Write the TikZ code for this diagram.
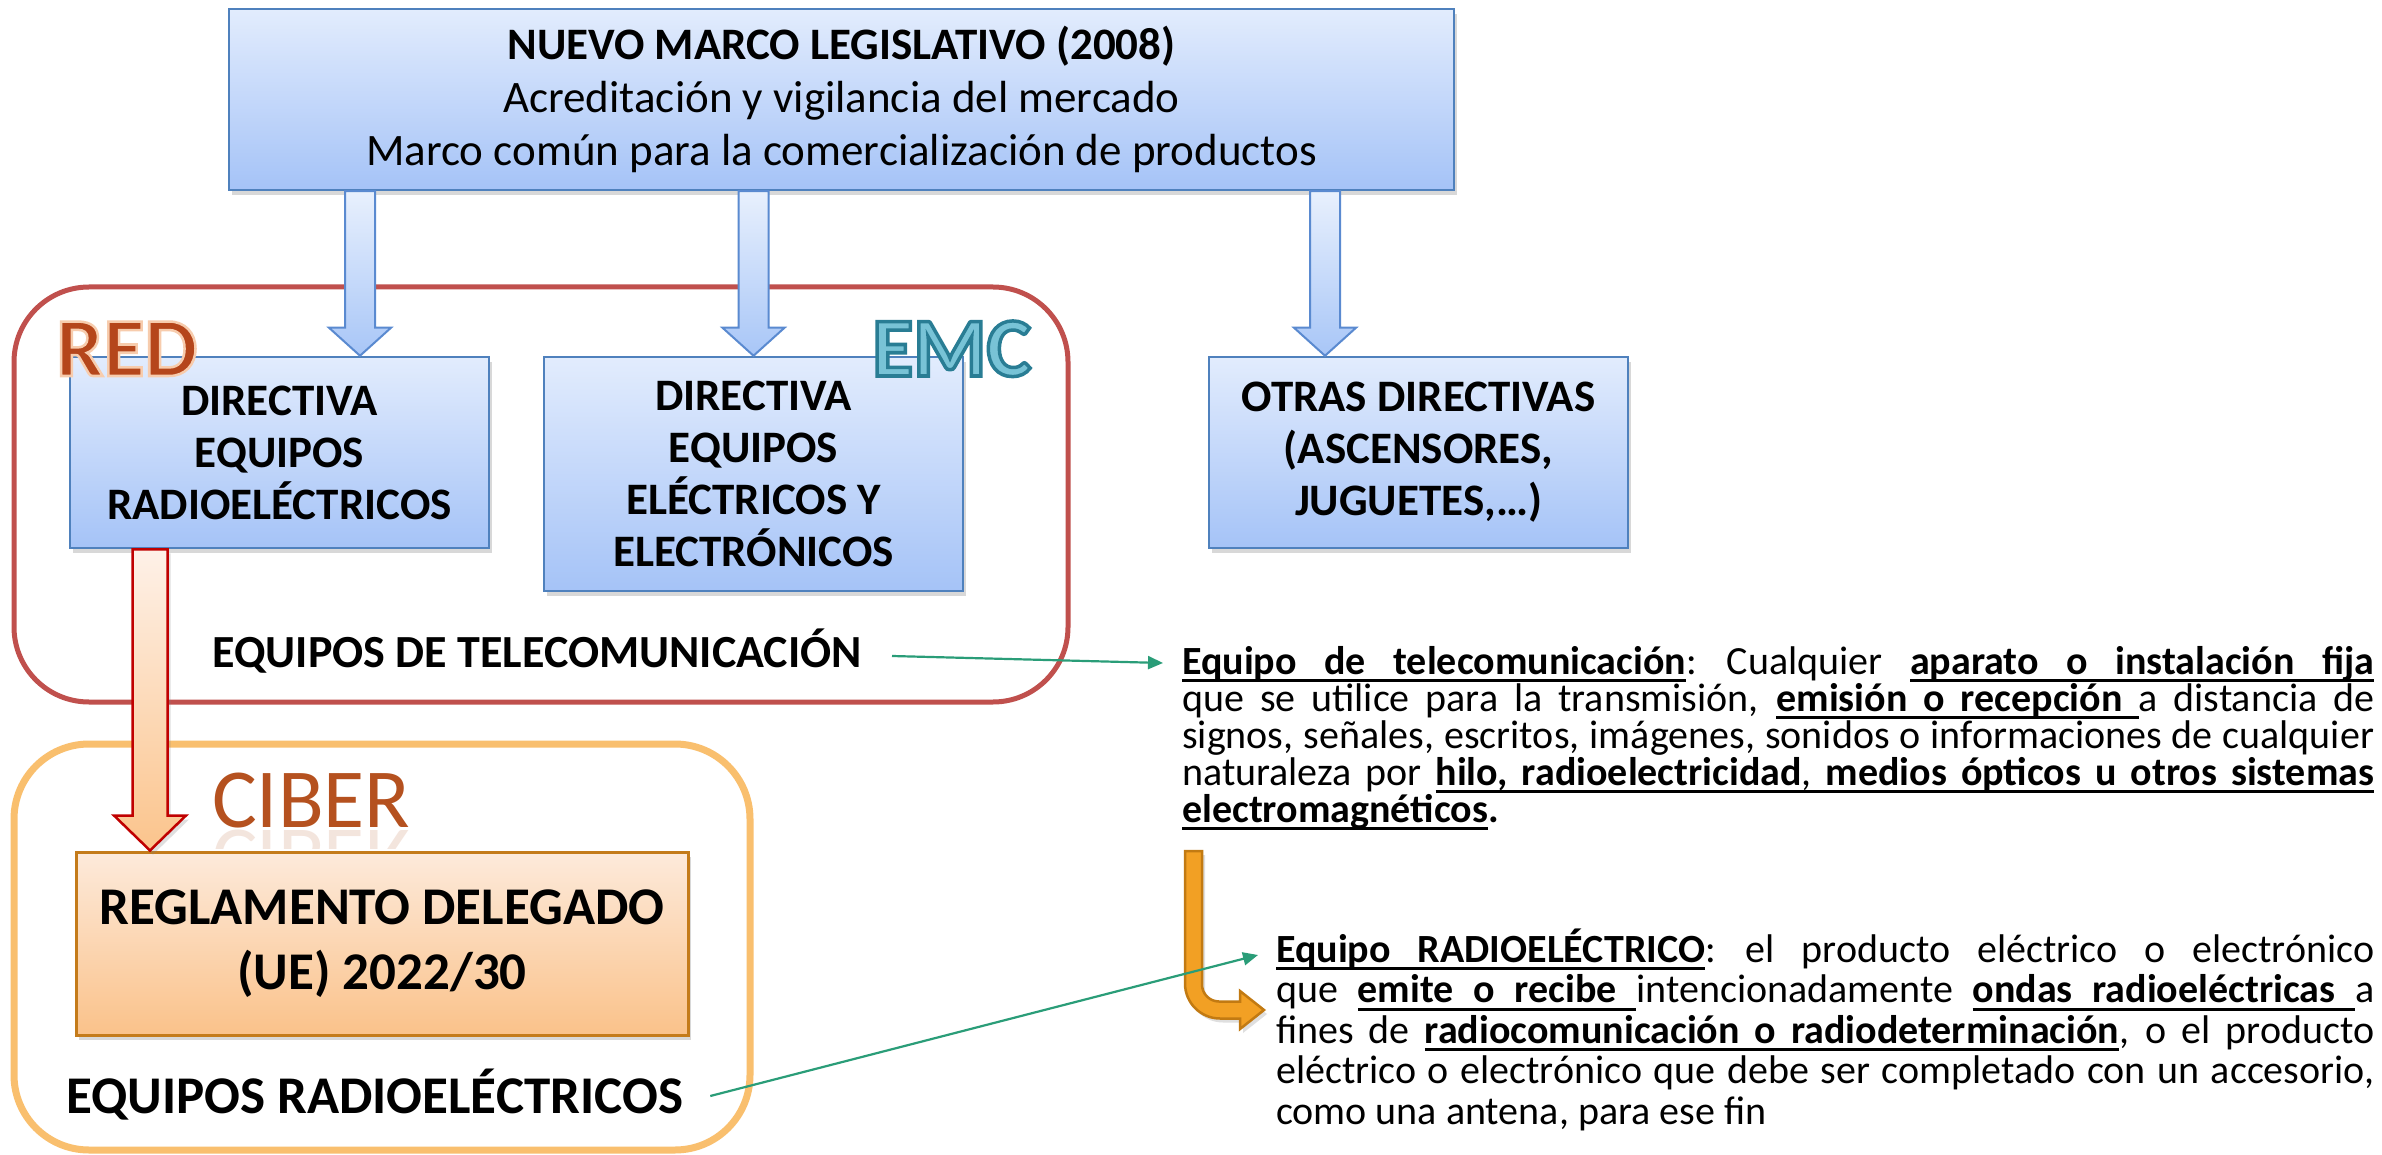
\documentclass[tikz,border=0pt]{standalone}
\usepackage{fontspec}
\setmainfont{Carlito}
\usetikzlibrary{shadows,arrows.meta,calc}
\definecolor{boxbd}{HTML}{4F81BD}
\definecolor{boxtop}{HTML}{E2ECFD}
\definecolor{boxbot}{HTML}{A5C3F7}
\definecolor{arrtop}{HTML}{E8F0FD}
\definecolor{arrbot}{HTML}{A8C6F7}
\definecolor{arrbd}{HTML}{5A8AD0}
\definecolor{redline}{HTML}{C0504D}
\definecolor{orline}{HTML}{F9BF6E}
\definecolor{regbd}{HTML}{C47B1A}
\definecolor{regtop}{HTML}{FDEADB}
\definecolor{regbot}{HTML}{FAC28A}
\definecolor{redarrbd}{HTML}{C00000}
\definecolor{redarrtop}{HTML}{FEF1E8}
\definecolor{redarrbot}{HTML}{FBC48C}
\definecolor{orarr}{HTML}{F2A024}
\definecolor{orarrbd}{HTML}{C27A12}
\definecolor{grn}{HTML}{2A9D78}
\definecolor{redtxt}{HTML}{B5461B}
\definecolor{emcfill}{HTML}{78C3D6}
\definecolor{cibertxt}{HTML}{B5511F}
\newsavebox\ulbox
\newcommand\myul[1]{\leavevmode\sbox\ulbox{#1}\rlap{\vrule height -5pt depth 8pt width \wd\ulbox}\usebox\ulbox}
\newcommand\ulsp{\leaders\hrule height -5pt depth 8pt\hskip\fontdimen2\font plus\fontdimen3\font minus\fontdimen4\font\relax}
\let\ulend\relax
\def\ulwA#1 #2\ulend{\myul{#1}\ifx\relax#2\relax\else\ulsp\ulwA#2\ulend\fi}
\newcommand\ulw[1]{\ulwA#1 \ulend}
\newcommand\ulb[1]{{\bfseries\ulw{#1}}}
% outlined text: fill in current colour, stroke with given rgb and width
\newcommand\outlined[3]{\special{pdf:literal direct 2 Tr #2 w #1 RG}#3\special{pdf:literal direct 0 Tr}}
\begin{document}
\begin{tikzpicture}[x=1pt,y=1pt,
  bluebox/.style={draw=boxbd, line width=2.5, top color=boxtop, bottom color=boxbot,
    drop shadow={opacity=0.3, shadow xshift=3pt, shadow yshift=-5pt},
    inner sep=0, align=center, font=\fontsize{45}{52}\selectfont\bfseries},
  regbox/.style={draw=regbd, line width=3, top color=regtop, bottom color=regbot,
    drop shadow={opacity=0.3, shadow xshift=3pt, shadow yshift=-5pt},
    inner sep=0, align=center, font=\fontsize{53}{65}\selectfont\bfseries},
  bluearrow/.style={draw=arrbd, line width=2, top color=arrtop, bottom color=arrbot},
  redarrow/.style={draw=redarrbd, line width=2.5, top color=redarrtop, bottom color=redarrbot,
    drop shadow={opacity=0.25, shadow xshift=3pt, shadow yshift=-4pt}},
  bentarrow/.style={draw=orarrbd, line width=2.5, fill=orarr,
    drop shadow={opacity=0.25, shadow xshift=3pt, shadow yshift=-4pt}},
  greenarr/.style={draw=grn, line width=2.2, -{Triangle[length=15pt,width=13pt]}},
  redlbl/.style={anchor=base west, inner sep=0, font=\fontsize{84}{90}\selectfont\bfseries, text=redtxt},
  emclbl/.style={anchor=base west, inner sep=0, font=\fontsize{84}{90}\selectfont\bfseries, text=emcfill},
  ciberlbl/.style={anchor=base west, inner sep=0, font=\fontsize{84}{90}\selectfont, text=cibertxt},
  paratext/.style={anchor=base west, inner sep=0, font=\fontsize{40}{37}\selectfont}
]
\fill[white] (0,0) rectangle (2382,-1155);
\useasboundingbox (0,0) rectangle (2382,-1155);

% containers
\node[draw=redline, line width=5, rounded corners=75, minimum width=1054, minimum height=415, inner sep=0] (redc) at (541,-494.5) {};
\node[draw=orline, line width=7, rounded corners=75, minimum width=736, minimum height=406, inner sep=0] (orc) at (382,-947) {};

% boxes
\node[bluebox, minimum width=1225, minimum height=181, font=\fontsize{45}{53}\selectfont] (top) at (841.5,-99.5)
  {\textbf{NUEVO MARCO LEGISLATIVO (2008)}\\Acreditación y vigilancia del mercado\\Marco común para la comercialización de productos};
\node[bluebox, minimum width=419, minimum height=191] (b1) at (279.5,-452.5) {DIRECTIVA\\EQUIPOS\\RADIOELÉCTRICOS};
\node[bluebox, minimum width=419, minimum height=234] (b2) at (753.5,-474) {DIRECTIVA\\EQUIPOS\\ELÉCTRICOS Y\\ELECTRÓNICOS};
\node[bluebox, minimum width=419, minimum height=191] (b3) at (1418.5,-452.5) {OTRAS DIRECTIVAS\\(ASCENSORES,\\JUGUETES,…)};
\node[regbox, minimum width=612, minimum height=183] (reg) at (382,-943.5) {REGLAMENTO DELEGADO\\(UE) 2022/30};

% labels
\node[anchor=base east, inner sep=0, font=\fontsize{46}{50}\selectfont\bfseries] (tel) at (862,-667) {EQUIPOS DE TELECOMUNICACIÓN};
\node[anchor=base west, inner sep=0, font=\fontsize{53}{60}\selectfont\bfseries] (eqr) at (66,-1113) {EQUIPOS RADIOELÉCTRICOS};

% block arrows
\coordinate (a1) at (360,0);
\coordinate (a2) at (753.5,0);
\coordinate (a3) at (1325,0);
\coordinate (ra) at (150,0);
\foreach \ax/\bx in {a1/b1,a2/b2,a3/b3}{
  \draw[bluearrow] let \p1=(\ax |- top.south), \p2=(\ax |- \bx.north) in
    (\x1-15pt,\y1) -- (\x1-15pt,\y2+28pt) -- (\x1-31pt,\y2+28pt) -- (\x1,\y2)
    -- (\x1+31pt,\y2+28pt) -- (\x1+15pt,\y2+28pt) -- (\x1+15pt,\y1) -- cycle;
}
\draw[redarrow] let \p1=(ra |- b1.south), \p2=(ra |- reg.north) in
  (\x1-17.5pt,\y1) -- (\x1-17.5pt,\y2+35pt) -- (\x1-36pt,\y2+35pt) -- (\x1,\y2)
  -- (\x1+36pt,\y2+35pt) -- (\x1+17.5pt,\y2+35pt) -- (\x1+17.5pt,\y1) -- cycle;

% bent orange arrow
\draw[bentarrow] (1185,-851) -- (1185,-983.5) arc (180:270:35) -- (1240,-1018.5) -- (1240,-1029)
  -- (1264,-1010) -- (1240,-991) -- (1240,-1001.5) -- (1219,-1001.5) arc (270:180:17) -- (1202,-851) -- cycle;

% RED / EMC / CIBER
\node[redlbl] (redt) at (56,-376) {\outlined{0.97 0.80 0.68}{2.5}{RED}};
\node[emclbl] (emct) at (872,-376) {\outlined{0.16 0.49 0.58}{3.5}{EMC}};
\node[ciberlbl] (ciber) at (212,-827) {CIBER};
\begin{scope}
  \clip (200,-829) rectangle (430,-848);
  \node[ciberlbl, yscale=-1, transform shape, opacity=0.15] (ciberrefl) at (212,-830) {CIBER};
\end{scope}

% paragraphs
\node[paratext] (p1) at (1182,-674) {\vtop{\hsize=1192pt \lineskiplimit=-100pt \baselineskip=37pt \parindent=0pt
\hbox to\hsize{\ulb{Equipo de telecomunicación}:\hskip 30pt Cualquier \ulb{aparato o instalación fija}}
\hbox to\hsize{que se utilice para la transmisión, \ulb{emisión o recepción}{\bfseries\ulsp}a distancia de}
\hbox to\hsize{signos, señales, escritos, imágenes, sonidos o informaciones de cualquier}
\hbox to\hsize{naturaleza por \ulb{hilo, radioelectricidad}\myul{,}\ulsp\ulb{medios ópticos u otros sistemas}}
\hbox{\ulb{electromagnéticos}\textbf{.}}}};

\node[paratext] (p2) at (1276,-962) {\vtop{\hsize=1098pt \lineskiplimit=-100pt \baselineskip=40.5pt \parindent=0pt
\hbox to\hsize{\ulb{Equipo RADIOELÉCTRICO}:\hskip 30pt el producto eléctrico o electrónico}
\hbox to\hsize{que \ulb{emite o recibe}{\bfseries\ulsp}intencionadamente \ulb{ondas radioeléctricas}{\bfseries\ulsp}a}
\hbox to\hsize{fines de \ulb{radiocomunicación o radiodeterminación}, o el producto}
\hbox to\hsize{eléctrico o electrónico que debe ser completado con un accesorio,}
\hbox{como una antena, para ese fin}}};

% green connectors
\coordinate (g1e) at (1163,-663);
\coordinate (g2e) at (1258,-955);
\draw[greenarr] ([shift={(30pt,11pt)}]tel.base east) -- (g1e);
\draw[greenarr] ([shift={(27pt,17pt)}]eqr.base east) -- (g2e);
\end{tikzpicture}
\end{document}
